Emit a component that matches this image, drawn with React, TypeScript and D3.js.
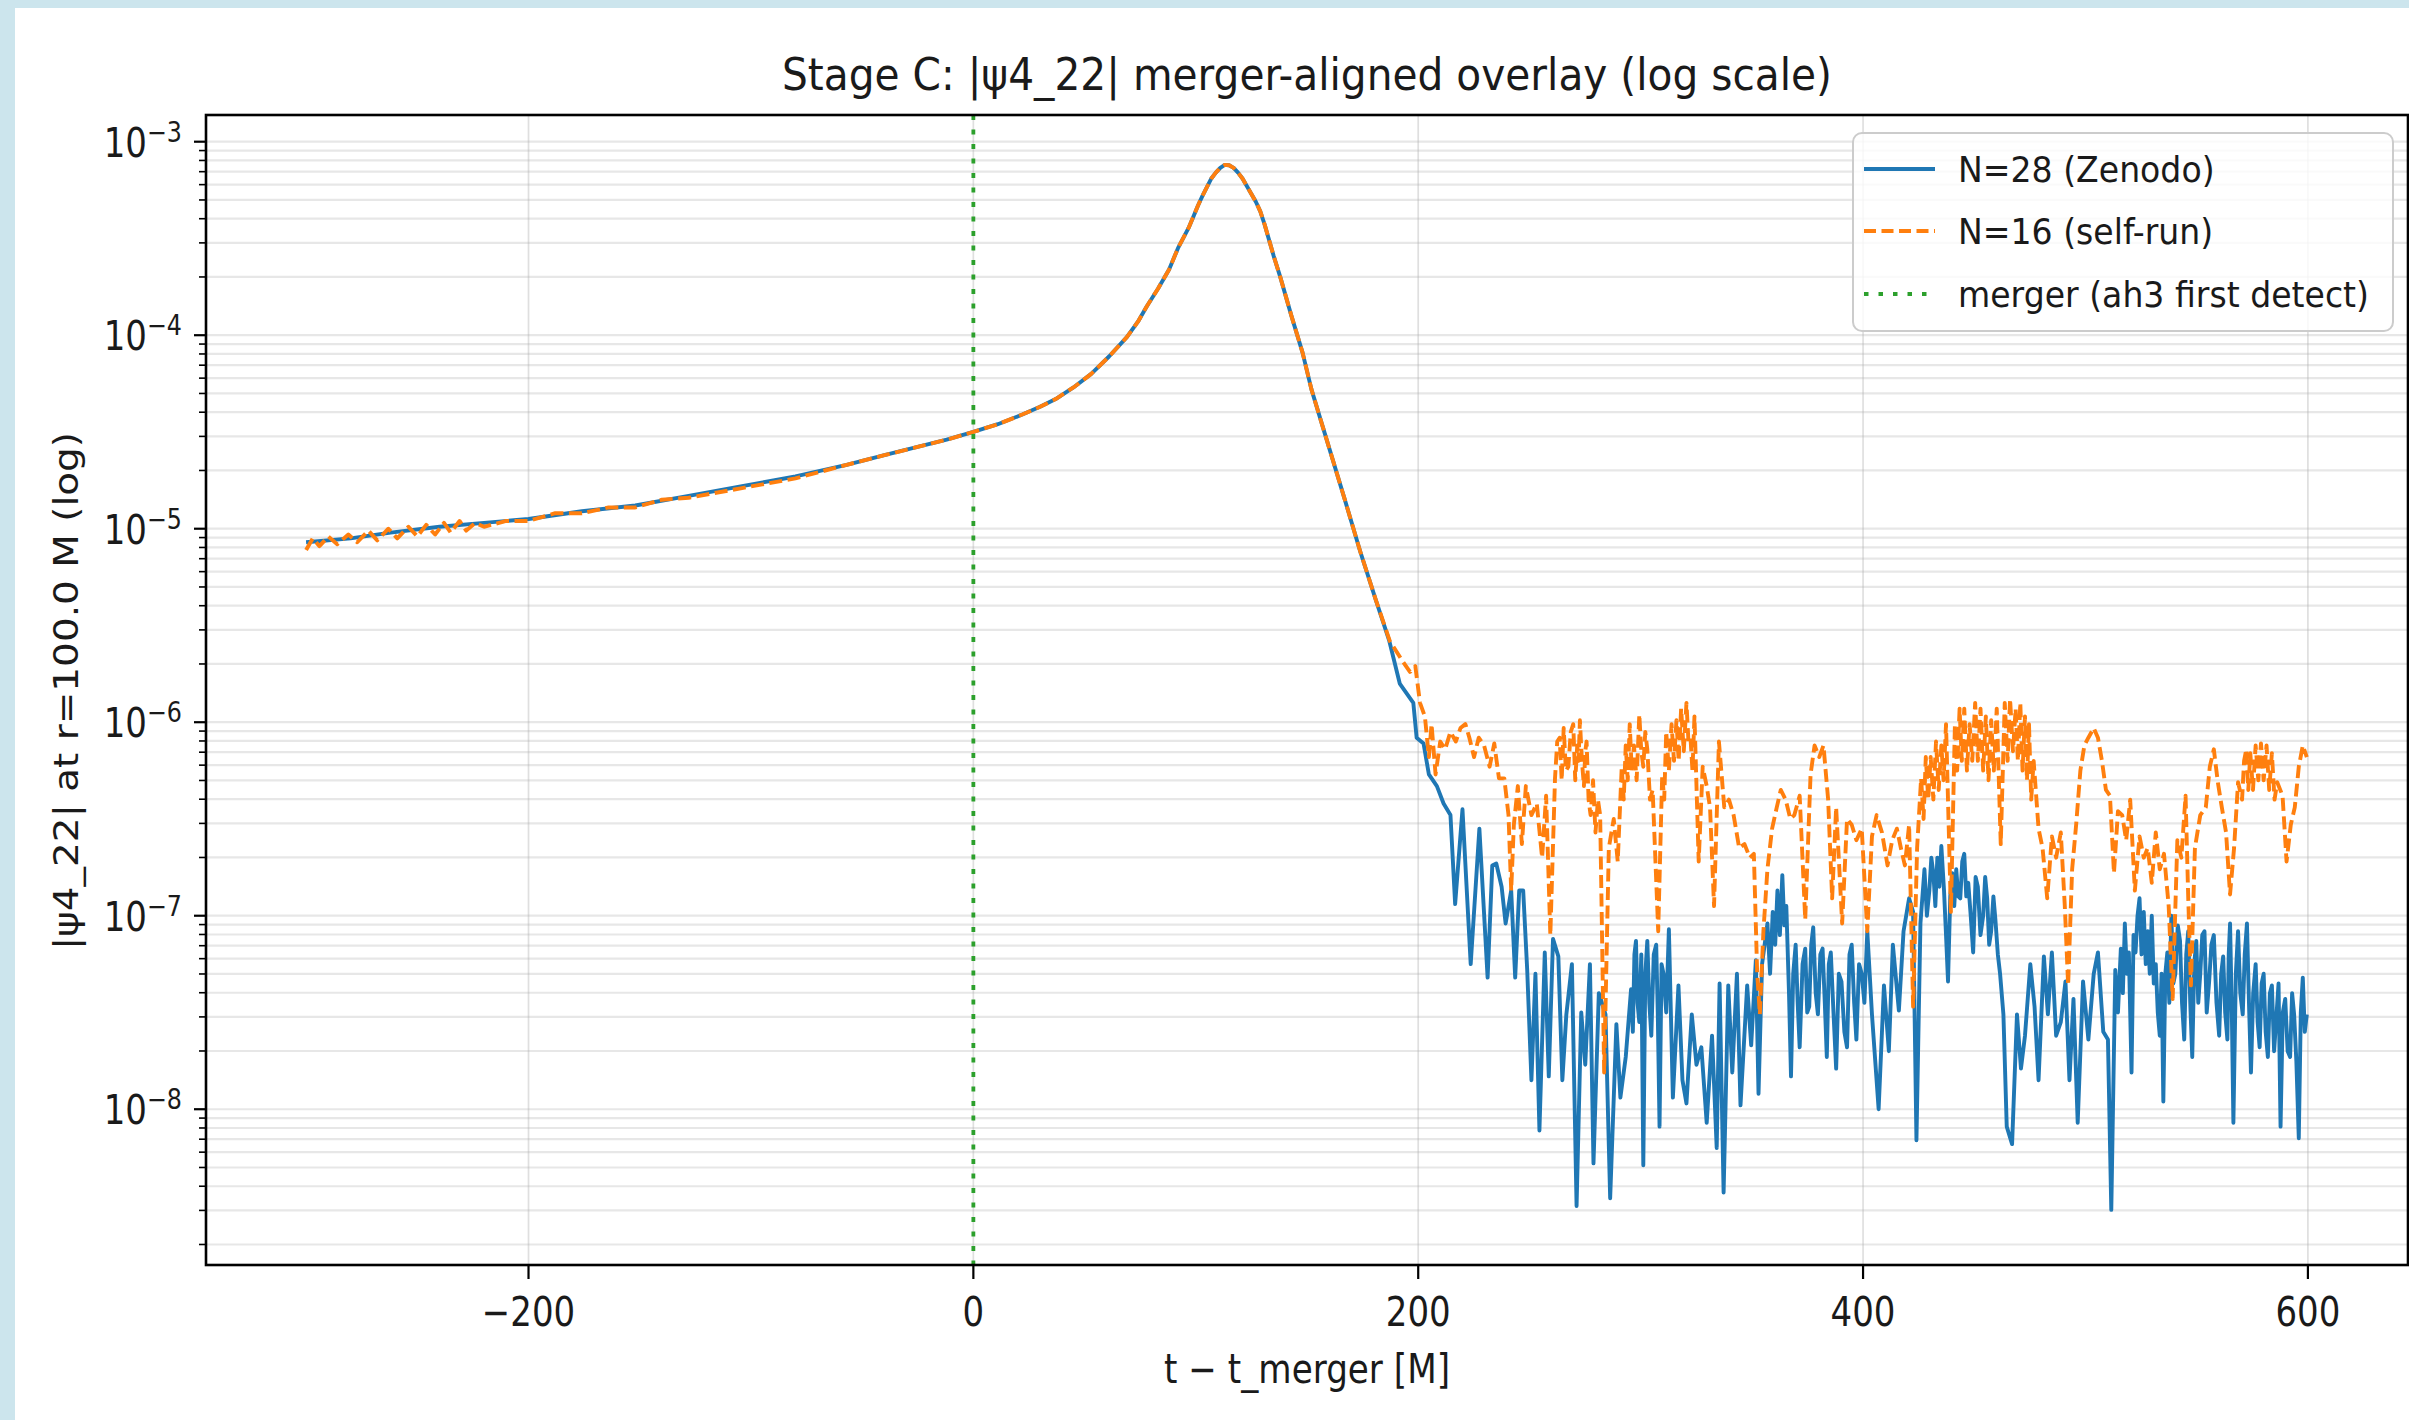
import React from 'react'
import * as d3 from 'd3'

const W = 2409
const H = 1420

// axis ticks
const xTicks = [-200, 0, 200, 400, 600]
const yDecades = [-8, -7, -6, -5, -4, -3]
const mergerT = 0

// N=28 (Zenodo): [t - t_merger, log10 |psi4_22|]
const n28: [number, number][] = [
  [-300, -5.07], [-280, -5.05], [-262, -5.02], [-240, -4.99], [-220, -4.97], [-200, -4.95],
  [-176, -4.91], [-152, -4.88], [-128, -4.83], [-104, -4.78], [-80, -4.73], [-57, -4.67],
  [-40, -4.62], [-26, -4.58], [-12, -4.54], [0, -4.5], [11, -4.46], [22, -4.41], [30, -4.37],
  [37, -4.33], [45, -4.27], [53, -4.2], [61, -4.11], [69, -4.01], [74, -3.93], [78, -3.85],
  [83, -3.76], [88, -3.66], [92, -3.55], [97, -3.44], [99, -3.385], [101, -3.33], [103, -3.28],
  [105, -3.235], [107, -3.19], [109, -3.16], [111, -3.135], [113, -3.12], [115, -3.122],
  [117, -3.135], [119, -3.16], [121, -3.19], [123, -3.23], [125, -3.27], [127, -3.31],
  [129, -3.36], [131, -3.43], [133, -3.51], [135, -3.59], [138, -3.7], [143, -3.9], [148, -4.09],
  [152, -4.28], [157, -4.47], [162, -4.66], [167, -4.85], [174, -5.12], [181, -5.37], [187, -5.58],
  [191.7, -5.8], [197.8, -5.9], [199.3, -6.08], [202.4, -6.11],
  [204.8, -6.27], [208.4, -6.33], [211.4, -6.42], [214.5, -6.48], [216.6, -6.94], [219.9, -6.45],
  [223.6, -7.25], [227.5, -6.55], [231.2, -7.32], [233.3, -6.74], [235.1, -6.73], [237.5, -6.85],
  [239.3, -7.04], [241.8, -6.87], [243.6, -7.32], [245.4, -6.87], [247.2, -6.87], [249.0, -7.28],
  [250.9, -7.85], [252.7, -7.3], [254.5, -8.11], [256.9, -7.19], [258.7, -7.83], [260.6, -7.12],
  [263.0, -7.21], [264.8, -7.85], [266.6, -7.51], [269.1, -7.25], [271.2, -8.5], [273.3, -7.5],
  [275.1, -7.77], [277.2, -7.25], [278.8, -8.28], [281.2, -7.4], [284.2, -7.51], [286.3, -8.46],
  [289.1, -7.56], [290.9, -7.94], [293.3, -7.73], [295.7, -7.38], [296.5, -7.6], [297.2, -7.2],
  [297.9, -7.13], [298.6, -7.45], [299.4, -7.55], [300.3, -7.2], [301.2, -8.29], [302.1, -7.3],
  [303.0, -7.13], [303.9, -7.45], [304.8, -7.62], [305.9, -7.2], [307.0, -7.15], [307.7, -7.5],
  [308.5, -8.09], [309.4, -7.25], [310.3, -7.3], [311.5, -7.5], [312.7, -7.07], [314.5, -7.94],
  [317.0, -7.36], [318.8, -7.85], [320.6, -7.97], [323.0, -7.51],
  [325.1, -7.77], [327.3, -7.68], [329.7, -8.07], [332.1, -7.62], [334.2, -8.2], [335.5, -7.35],
  [337.3, -8.43], [339.4, -7.36], [341.2, -7.81], [343.3, -7.3], [344.9, -7.98], [347.9, -7.36],
  [349.7, -7.67], [351.8, -7.23], [353.0, -7.92], [354.6, -7.25], [357.0, -7.04], [358.2, -7.3],
  [359.4, -6.98], [360.5, -7.15], [361.5, -6.87], [362.6, -7.1], [363.7, -6.79], [364.6, -7.05],
  [365.5, -6.95], [366.7, -7.4], [367.6, -7.83], [368.6, -7.3], [369.7, -7.15], [370.6, -7.45],
  [371.5, -7.68], [372.8, -7.25], [374.0, -7.17], [374.9, -7.5], [375.8, -7.47], [376.7, -7.15],
  [377.6, -7.06], [378.7, -7.4], [379.7, -7.51], [380.8, -7.2], [381.8, -7.17], [382.8, -7.45],
  [383.7, -7.73], [384.6, -7.25], [385.5, -7.19], [386.7, -7.5], [387.9, -7.79], [389.1, -7.3],
  [390.3, -7.34], [391.6, -7.6], [392.8, -7.68], [393.9, -7.2], [394.9, -7.15], [396.0, -7.45],
  [397.0, -7.64], [398.2, -7.25], [399.4, -7.3], [400.6, -7.45], [401.9, -7.08], [404.0, -7.51],
  [407.0, -8.0], [409.4, -7.36], [411.6, -7.7], [413.4, -7.15], [416.1, -7.49], [418.2, -7.08],
  [420.7, -6.91], [422.5, -6.98], [424.0, -8.16], [425.8, -7.04], [427.6, -6.76], [428.7, -7.0],
  [429.8, -6.87], [430.7, -6.7], [431.6, -6.78], [432.5, -6.95], [433.4, -6.7], [434.3, -6.85],
  [435.2, -6.64], [436.4, -6.87], [437.3, -7.1], [438.2, -7.34], [439.2, -6.9], [440.1, -6.78],
  [441.0, -6.95], [441.9, -6.76], [442.8, -6.9], [443.7, -6.91], [444.6, -6.72], [445.5, -6.68],
  [446.4, -6.9], [447.3, -6.83], [448.4, -7.0], [449.5, -7.19], [450.6, -6.8], [451.6, -6.85],
  [452.8, -7.1], [454.0, -7.0], [454.9, -6.8], [455.8, -6.91], [456.7, -7.15], [457.6, -7.08],
  [458.6, -6.9], [459.5, -7.02], [460.6, -7.2], [461.6, -7.3], [463.1, -7.51], [464.6, -8.09],
  [467.0, -8.18], [469.2, -7.51], [471.0, -7.79], [472.8, -7.62], [475.2, -7.25], [477.1, -7.47],
  [478.9, -7.85], [481.3, -7.21], [483.1, -7.51], [484.9, -7.19], [486.8, -7.62], [488.9, -7.55],
  [491.0, -7.34], [492.8, -7.85], [494.6, -7.43], [496.5, -8.07], [498.9, -7.34], [501.3, -7.64],
  [503.7, -7.3], [505.6, -7.19], [508.0, -7.6], [510.1, -7.64], [511.6, -8.52], [513.4, -7.28],
  [514.6, -7.5], [515.9, -7.17], [516.8, -7.4], [517.7, -7.04], [518.6, -7.3], [519.5, -7.19],
  [520.7, -7.81], [521.6, -7.1], [522.5, -7.19], [523.4, -7.0], [524.3, -6.91], [525.2, -7.2],
  [526.2, -6.98], [527.1, -7.25], [528.0, -7.08], [528.9, -7.3], [529.8, -7.0], [530.7, -7.35],
  [531.6, -7.25], [532.5, -7.5], [533.4, -7.62], [534.2, -7.3], [535.0, -7.96], [535.9, -7.3],
  [536.8, -7.19], [537.7, -7.45], [538.6, -7.0], [539.5, -7.35], [540.4, -7.3], [541.5, -7.05],
  [542.5, -7.13], [543.4, -7.45], [544.4, -7.64], [545.3, -7.2], [546.2, -7.08], [547.1, -7.45],
  [548.0, -7.73], [548.9, -7.25], [549.8, -7.13], [550.7, -7.45], [551.6, -7.3], [552.5, -7.1],
  [553.5, -7.08], [554.5, -7.5], [555.6, -7.34], [556.6, -7.15], [557.7, -7.1], [558.9, -7.45],
  [560.1, -7.62], [561.0, -7.3], [561.9, -7.21], [562.8, -7.5], [563.8, -7.64], [564.4, -7.2],
  [565.0, -7.04], [565.8, -7.5], [566.5, -8.07], [567.6, -7.3], [568.6, -7.08], [569.6, -7.4],
  [570.7, -7.51], [571.6, -7.2], [572.6, -7.04], [573.5, -7.45], [574.4, -7.81], [575.4, -7.4],
  [576.5, -7.25], [577.4, -7.55], [578.3, -7.68], [579.2, -7.35], [580.1, -7.3], [581.0, -7.6],
  [582.0, -7.73], [582.9, -7.4], [583.8, -7.36], [584.8, -7.7], [585.9, -7.51], [586.8, -7.35],
  [587.7, -8.09], [588.7, -7.5], [589.8, -7.43], [590.9, -7.7], [592.0, -7.73], [592.9, -7.4],
  [593.8, -7.51], [594.8, -7.75], [595.9, -8.15], [596.8, -7.5], [597.7, -7.32], [598.6, -7.6],
  [599.5, -7.51],
]

// N=16 (self-run): [t - t_merger, log10 |psi4_22|]
const n16: [number, number][] = [
  [-300, -5.11], [-297, -5.05], [-294, -5.09], [-290, -5.04], [-286, -5.08], [-281, -5.03],
  [-277, -5.07], [-272, -5.01], [-268, -5.06], [-263, -5.0], [-259, -5.05], [-254, -4.99],
  [-250, -5.04], [-246, -4.98], [-242, -5.03], [-238, -4.97], [-235, -5.02], [-231, -4.96],
  [-228, -5.01], [-224, -4.97], [-220, -4.99], [-210, -4.96], [-200, -4.96], [-188, -4.92],
  [-176, -4.92], [-164, -4.89], [-152, -4.89], [-140, -4.85], [-128, -4.84], [-104, -4.79],
  [-80, -4.74], [-57, -4.67], [-40, -4.62], [-26, -4.58], [-12, -4.54], [0, -4.5], [11, -4.46],
  [22, -4.41], [30, -4.37], [37, -4.33], [45, -4.27], [53, -4.2], [61, -4.11], [69, -4.01],
  [74, -3.93], [78, -3.85], [83, -3.76], [88, -3.66], [92, -3.55], [97, -3.44], [99, -3.385],
  [101, -3.33], [103, -3.28], [105, -3.235], [107, -3.19], [109, -3.16], [111, -3.135],
  [113, -3.12], [115, -3.122], [117, -3.135], [119, -3.16], [121, -3.19], [123, -3.23],
  [125, -3.27], [127, -3.31], [129, -3.36], [131, -3.43], [133, -3.51], [135, -3.59], [138, -3.7],
  [143, -3.9], [148, -4.09], [152, -4.28], [157, -4.47], [162, -4.66],
  [167, -4.85], [174, -5.12], [181, -5.37], [187.2, -5.58], [193.3, -5.69], [196.3, -5.74],
  [198.7, -5.71], [200.8, -5.9], [203.0, -5.97], [204.8, -6.18], [206.0, -6.01], [207.8, -6.27],
  [209.9, -6.1], [212.1, -6.14], [214.5, -6.05], [216.9, -6.1], [219.0, -6.03], [221.2, -6.01],
  [223.0, -6.08], [225.1, -6.18], [227.2, -6.08], [229.6, -6.12], [232.1, -6.23], [234.2, -6.11],
  [236.3, -6.29], [238.7, -6.29], [240.6, -6.48], [241.8, -6.87], [243.0, -6.53], [244.8, -6.33],
  [246.6, -6.63], [248.4, -6.33], [250.9, -6.48], [253.3, -6.42], [255.7, -6.7], [257.5, -6.38],
  [259.4, -7.1], [261.5, -6.29], [262.5, -6.1], [263.6, -6.08], [264.5, -6.3], [265.4, -6.03],
  [266.4, -6.25], [267.5, -6.23], [268.6, -6.05], [269.7, -6.01], [270.6, -6.3], [271.5, -6.12],
  [272.1, -6.2], [272.7, -5.99], [273.6, -6.2], [274.5, -6.33], [275.1, -6.15], [275.7, -6.1],
  [276.6, -6.4], [277.5, -6.48], [278.6, -6.3], [279.7, -6.57], [280.8, -6.4], [281.8, -6.48],
  [283.6, -7.81], [285.7, -6.65], [287.9, -6.5], [289.7, -6.72], [291.5, -6.23], [292.4, -6.4],
  [293.3, -6.12], [294.2, -6.3], [295.1, -6.01], [296.0, -6.25], [297.0, -6.12], [298.2, -6.3],
  [299.4, -5.96], [300.3, -6.15], [301.2, -6.23], [302.1, -6.05], [303.0, -6.14], [304.2, -6.4],
  [305.4, -6.35], [307.9, -7.08], [309.7, -6.27], [310.6, -6.4], [311.5, -6.05], [312.7, -6.25],
  [313.9, -6.01], [315.0, -6.2], [316.1, -5.99], [317.1, -6.2], [318.2, -5.93], [319.4, -6.15],
  [320.6, -5.9], [321.5, -6.1], [322.4, -6.08], [323.3, -6.25], [324.2, -5.97], [326.1, -6.72],
  [327.9, -6.23], [329.7, -6.33], [331.2, -6.44], [333.0, -6.95], [335.2, -6.1], [337.6, -6.44],
  [339.7, -6.4], [341.8, -6.48], [344.3, -6.65], [346.7, -6.63], [349.1, -6.7], [350.9, -6.68],
  [352.4, -7.3], [353.6, -7.51], [355.2, -7.08], [357.0, -6.76], [359.1, -6.55], [361.2, -6.44],
  [363.0, -6.35], [365.2, -6.4], [367.3, -6.5], [369.1, -6.48], [371.5, -6.38], [374.0, -7.02],
  [376.4, -6.27], [378.2, -6.12], [380.3, -6.18], [382.2, -6.12], [384.3, -6.4], [386.1, -6.91],
  [387.9, -6.44], [390.6, -7.04], [392.8, -6.5], [394.9, -6.53], [397.0, -6.61], [399.4, -6.55],
  [401.9, -7.08], [404.0, -6.59], [406.1, -6.48], [408.5, -6.57], [411.0, -6.74], [413.1, -6.61],
  [415.2, -6.55], [417.0, -6.65], [418.8, -6.74], [420.7, -6.53], [422.5, -7.47], [424.3, -6.65],
  [426.1, -6.29], [427.2, -6.5], [428.2, -6.18], [429.3, -6.4], [430.4, -6.18], [431.6, -6.4],
  [432.8, -6.1], [434.0, -6.35], [435.2, -6.12], [436.2, -6.3], [437.3, -6.01], [439.5, -6.98],
  [441.3, -6.01], [442.3, -6.25], [443.4, -5.93], [444.4, -6.2], [445.5, -5.93], [446.7, -6.25],
  [447.9, -6.01], [449.1, -6.2], [450.4, -5.9], [451.6, -6.2], [452.8, -5.93], [454.0, -6.25],
  [455.2, -5.97], [456.4, -6.3], [457.6, -5.99], [458.8, -6.25], [460.1, -5.93], [461.9, -6.63],
  [463.7, -5.9], [465.0, -6.2], [466.1, -5.88], [467.4, -6.15], [468.6, -5.93], [469.6, -6.2],
  [470.7, -5.9], [471.7, -6.25], [472.8, -5.97], [473.7, -6.3], [474.6, -6.01], [475.6, -6.4],
  [476.7, -6.2], [478.9, -6.55], [480.7, -6.65], [482.8, -6.91], [484.9, -6.59], [486.8, -6.7],
  [488.9, -6.57], [490.7, -6.95], [492.2, -7.36], [494.0, -6.76], [495.8, -6.53], [497.7, -6.25],
  [499.5, -6.12], [501.3, -6.08], [503.7, -6.03], [505.6, -6.08], [507.4, -6.2], [509.2, -6.35],
  [511.0, -6.38], [512.8, -6.78], [514.6, -6.46], [516.5, -6.48], [518.3, -6.61], [520.1, -6.4],
  [522.2, -6.87], [524.3, -6.59], [526.2, -6.7], [528.0, -6.65], [529.8, -6.83], [531.6, -6.57],
  [533.4, -6.76], [535.3, -6.68], [537.4, -6.95], [539.2, -7.43], [541.3, -6.61], [543.1, -6.7],
  [545.0, -6.38], [546.2, -6.91], [547.4, -7.36], [549.2, -6.65], [551.6, -6.48], [554.1, -6.44],
  [555.9, -6.23], [557.7, -6.14], [559.5, -6.31], [561.3, -6.44], [563.2, -6.57], [565.0, -6.89],
  [566.8, -6.65], [568.6, -6.31], [570.4, -6.4], [571.3, -6.2], [572.3, -6.14], [573.2, -6.35],
  [574.1, -6.16], [575.3, -6.35], [576.5, -6.12], [577.7, -6.3], [578.9, -6.11], [580.1, -6.3],
  [581.4, -6.12], [582.6, -6.35], [583.8, -6.16], [585.0, -6.4], [586.2, -6.31], [588.6, -6.38],
  [590.4, -6.72], [592.3, -6.53], [594.1, -6.44], [595.9, -6.23], [597.7, -6.12], [599.5, -6.18],
]

const legendLabels = ['N=28 (Zenodo)', 'N=16 (self-run)', 'merger (ah3 first detect)']
const colors = { n28: '#1f77b4', n16: '#ff7f0e', merger: '#2ca02c' }
const font = 'DejaVu Sans, sans-serif'

function Txt({ x, y, size, sx = 1, anchor = 'middle', rotate = 0, len, children }: any) {
  return (
    <text
      transform={`translate(${x},${y}) rotate(${rotate}) scale(${sx},1)`}
      fontSize={size}
      fontFamily={font}
      textAnchor={anchor}
      fill="#1a1a1a"
      textLength={len}
      lengthAdjust={len ? 'spacingAndGlyphs' : undefined}
    >
      {children}
    </text>
  )
}

export default function App() {
  const x = d3.scaleLinear().domain([-345, 645]).range([206, 2408])
  const y = d3.scaleLog().domain([Math.pow(10, -8.805), Math.pow(10, -2.862)]).range([1265, 115])
  const [left, right] = x.range()
  const [bottom, top] = y.range()

  const line = d3
    .line<[number, number]>()
    .x((d) => x(d[0]))
    .y((d) => y(Math.pow(10, d[1])))

  // minor decade values inside the y domain
  const minors: number[] = []
  for (let k = -9; k <= -3; k++) {
    for (let m = 2; m <= 9; m++) {
      const v = m * Math.pow(10, k)
      if (v > y.domain()[0] && v < y.domain()[1]) minors.push(v)
    }
  }
  const grid = '#b0b0b0'

  const legX = 1853
  const legY = 133
  const rowY = [169, 231, 294]

  return (
    <svg width={W} height={H} style={{ position: 'absolute', left: 0, top: 0, display: 'block' }}>
      <rect x={0} y={0} width={W} height={H} fill="#ffffff" />
      <rect x={0} y={0} width={W} height={8} fill="#cce5ed" />
      <rect x={0} y={0} width={15} height={H} fill="#cce5ed" />

      <defs>
        <clipPath id="plot">
          <rect x={left} y={top} width={right - left} height={bottom - top} />
        </clipPath>
      </defs>

      {/* grid */}
      {minors.map((v) => (
        <line key={'mg' + v} x1={left} x2={right} y1={y(v)} y2={y(v)} stroke={grid} strokeOpacity={0.3} strokeWidth={2.2} />
      ))}
      {yDecades.map((k) => (
        <line key={'Mg' + k} x1={left} x2={right} y1={y(Math.pow(10, k))} y2={y(Math.pow(10, k))} stroke={grid} strokeOpacity={0.3} strokeWidth={2.2} />
      ))}
      {xTicks.map((t) => (
        <line key={'xg' + t} x1={x(t)} x2={x(t)} y1={top} y2={bottom} stroke={grid} strokeOpacity={0.4} strokeWidth={1.7} />
      ))}

      {/* series */}
      <g clipPath="url(#plot)">
        <path d={line(n28) || ''} fill="none" stroke={colors.n28} strokeWidth={3.9} strokeLinejoin="round" />
        <path d={line(n16) || ''} fill="none" stroke={colors.n16} strokeWidth={3.9} strokeDasharray="13 5.5" strokeLinejoin="round" />
        <line x1={x(mergerT)} x2={x(mergerT)} y1={top} y2={bottom} stroke={colors.merger} strokeWidth={3.8} strokeDasharray="5 9.5" />
      </g>

      {/* spines */}
      <rect x={left} y={top} width={right - left} height={bottom - top} fill="none" stroke="#000" strokeWidth={2.6} />

      {/* y ticks */}
      {minors.map((v) => (
        <line key={'mt' + v} x1={left - 7} x2={left} y1={y(v)} y2={y(v)} stroke="#000" strokeWidth={1.6} />
      ))}
      {yDecades.map((k) => (
        <g key={'yt' + k}>
          <line x1={left - 12} x2={left} y1={y(Math.pow(10, k))} y2={y(Math.pow(10, k))} stroke="#000" strokeWidth={2.2} />
          <text
            transform={`translate(182,${y(Math.pow(10, k)) + 15}) scale(0.85,1)`}
            fontSize={40}
            fontFamily={font}
            textAnchor="end"
            fill="#1a1a1a"
          >
            10
            <tspan dy={-15} fontSize={28}>
              {'\u2212' + Math.abs(k)}
            </tspan>
          </text>
        </g>
      ))}

      {/* x ticks */}
      {xTicks.map((t) => (
        <g key={'xt' + t}>
          <line x1={x(t)} x2={x(t)} y1={bottom} y2={bottom + 14} stroke="#000" strokeWidth={2.2} />
          <Txt x={x(t)} y={1326} size={40} sx={0.85}>
            {d3.format('')(t).replace('-', '\u2212')}
          </Txt>
        </g>
      ))}

      {/* titles */}
      <Txt x={(left + right) / 2} y={90} size={45} len={1050}>
        Stage C: |ψ4_22| merger-aligned overlay (log scale)
      </Txt>
      <Txt x={(left + right) / 2} y={1383} size={40} len={286}>
        t − t_merger [M]
      </Txt>
      <Txt x={78} y={691} size={34} rotate={-90} len={518}>
        |ψ4_22| at r=100.0 M (log)
      </Txt>

      {/* legend */}
      <rect x={legX} y={legY} width={540} height={198} rx={9} fill="#ffffff" fillOpacity={0.8} stroke="#cccccc" strokeWidth={2} />
      <line x1={1864} x2={1935} y1={rowY[0]} y2={rowY[0]} stroke={colors.n28} strokeWidth={3.8} />
      <line x1={1864} x2={1935} y1={rowY[1]} y2={rowY[1]} stroke={colors.n16} strokeWidth={3.8} strokeDasharray="12 5.5" />
      <line x1={1864} x2={1935} y1={rowY[2]} y2={rowY[2]} stroke={colors.merger} strokeWidth={3.8} strokeDasharray="4.5 10" />
      {legendLabels.map((s, i) => (
        <Txt key={s} x={1958} y={rowY[i] + 13} size={36} sx={0.92} anchor="start">
          {s}
        </Txt>
      ))}
    </svg>
  )
}
